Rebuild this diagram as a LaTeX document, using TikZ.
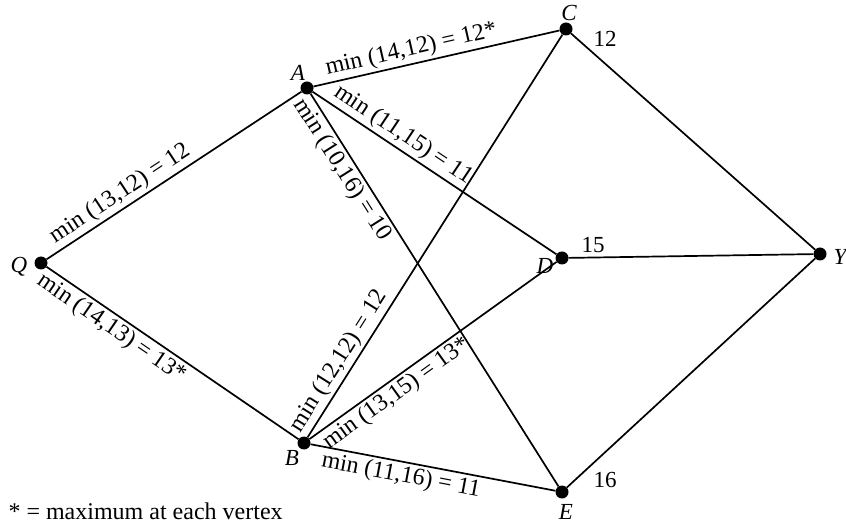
\documentclass[tikz,border=0pt]{standalone}
\usepackage{fontspec}
\setmainfont{Liberation Serif}
\begin{document}
\begin{tikzpicture}[x=1pt,y=-1pt,
  every node/.style={font=\fontsize{23}{27}\selectfont},
  vtx/.style={circle,fill=black,inner sep=0pt,minimum size=13pt},
  edge/.style={line width=1.7pt},
  lbl/.style={sloped,inner sep=2.5pt,font=\fontsize{24}{28}\selectfont},
  vname/.style={font=\fontsize{23}{27}\selectfont\itshape,inner sep=1pt}]
\useasboundingbox (0,0) rectangle (846,526);
\node[vtx] (Q) at (41,263) {};
\node[vtx] (A) at (307,88) {};
\node[vtx] (C) at (566,29) {};
\node[vtx] (D) at (562,258) {};
\node[vtx] (Y) at (820,254) {};
\node[vtx] (B) at (304,443) {};
\node[vtx] (E) at (562,492) {};
\node[vname] (lQ) at (19,267) {Q};
\node[vname] (lA) at (298,73) {A};
\node[vname] (lC) at (569,13) {C};
\node[vname] (lD) at (545,266) {D};
\node[vname] (lY) at (840,257) {Y};
\node[vname] (lB) at (292,458) {B};
\node[vname] (lE) at (566,512) {E};
\node (n12) at (605,39) {12};
\node (n15) at (593,245) {15};
\node (n16) at (605,480) {16};
\draw[edge] (Q) -- node[lbl,above,pos=0.32] {min (13,12) = 12} (A);
\draw[edge] (Q) -- node[lbl,below,pos=0.29] {min (14,13) = 13*} (B);
\draw[edge] (A) -- node[lbl,above,pos=0.41] {min (14,12) = 12*} (C);
\draw[edge] (A) -- node[lbl,above,pos=0.34] {min (11,15) = 11} (D);
\draw[edge] (A) -- node[lbl,below,pos=0.175] {min (10,16) = 10} (E);
\draw[edge] (B) -- node[lbl,above,pos=0.17] {min (12,12) = 12} (C);
\draw[edge] (B) -- node[lbl,below,pos=0.32] {min (13,15) = 13*} (D);
\draw[edge] (B) -- node[lbl,below,pos=0.38] {min (11,16) = 11} (E);
\draw[edge] (C) -- (Y);
\draw[edge] (D) -- (Y);
\draw[edge] (E) -- (Y);
\node[anchor=west,font=\fontsize{24}{28}\selectfont] (foot) at (5,511) {* = maximum at each vertex};
\end{tikzpicture}
\end{document}
